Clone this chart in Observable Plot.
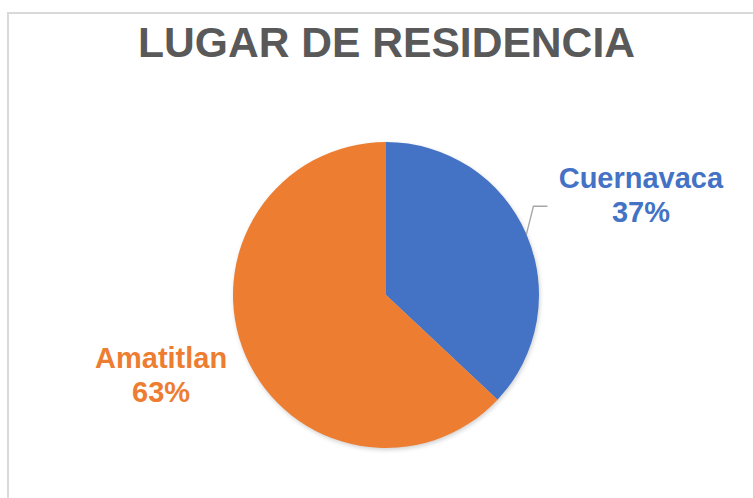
<!DOCTYPE html>
<html><head><meta charset="utf-8">
<script src="https://cdn.jsdelivr.net/npm/d3@7"></script>
<script src="https://cdn.jsdelivr.net/npm/@observablehq/plot@0.6"></script>
<style>html,body{margin:0;padding:0;background:#fff;overflow:hidden} svg{display:block}</style>
</head><body><div id="chart"></div>
<script>
const title = "LUGAR DE RESIDENCIA";
const categories = ["Cuernavaca", "Amatitlan"];
const values = [37, 63];
const colors = ["#4472C4", "#ED7D31"];

const FONT = "'Liberation Sans', Arial, Helvetica, sans-serif";
const R = 153, CX = 386, CY = 295;
const total = d3.sum(values);
const data = categories.map((c, i) => ({category: c, value: values[i]}));
const slices = d3.pie().sort(null).value(d => d.value)(data);

// label placement (pixel offsets from the slice's outer mid point)
const labelPlacement = {Cuernavaca: {dx: 114, dy: -13, leader: true}, Amatitlan: {dx: -85, dy: 46, leader: false}};

const labelData = slices.map(s => {
  const mid = (s.startAngle + s.endAngle) / 2;
  const p = labelPlacement[s.data.category];
  return {
    category: s.data.category,
    text: `${s.data.category}\n${Math.round(s.data.value / total * 100)}%`,
    x: Math.sin(mid) + p.dx / R,
    y: Math.cos(mid) - p.dy / R
  };
});

function pieMark(index, scales, values, dimensions) {
  const cx = scales.x(0), cy = scales.y(0);
  const r = scales.x(1) - scales.x(0);
  const g = d3.create("svg:g");
  // chart area border (top and left visible)
  g.append("path")
    .attr("d", `M8,${dimensions.height} L8,13 L${dimensions.width},13`)
    .attr("fill", "none").attr("stroke", "#d9d9d9").attr("stroke-width", 2);
  const arc = d3.arc().innerRadius(0).outerRadius(r);
  const pg = g.append("g").attr("transform", `translate(${cx},${cy})`)
    .style("filter", "drop-shadow(1.5px 2px 2px rgba(0,0,0,0.18))");
  pg.selectAll("path").data(slices).join("path")
    .attr("d", arc)
    .attr("fill", d => scales.color ? scales.color(d.data.category) : colors[categories.indexOf(d.data.category)]);
  // leader lines
  slices.forEach(s => {
    const p = labelPlacement[s.data.category];
    if (!p.leader) return;
    const mid = (s.startAngle + s.endAngle) / 2;
    const x0 = cx + r * Math.sin(mid), y0 = cy - r * Math.cos(mid);
    g.append("path")
      .attr("d", `M${x0},${y0} L${x0 + 7},${y0 - 28} L${x0 + 21},${y0 - 28}`)
      .attr("fill", "none").attr("stroke", "#a6a6a6").attr("stroke-width", 1.3);
  });
  return g.node();
}

const chart = Plot.plot({
  width: 753,
  height: 498,
  margin: 0,
  x: {type: "linear", domain: [-1, 1], range: [CX - R, CX + R], axis: null},
  y: {type: "linear", domain: [-1, 1], range: [CY + R, CY - R], axis: null},
  color: {domain: categories, range: colors},
  style: {fontFamily: FONT, background: "#fff"},
  marks: [
    pieMark,
    Plot.text(labelData, {
      x: "x", y: "y", text: "text", fill: "category",
      lineAnchor: "bottom", lineHeight: 1.18,
      fontSize: 29, fontWeight: "bold", fontFamily: FONT
    }),
    Plot.text([title], {
      x: () => 0, text: d => d, frameAnchor: "top", lineAnchor: "top", dy: 26,
      fontSize: 42.6, fontWeight: "bold", fill: "#595959", fontFamily: FONT
    })
  ]
});
document.getElementById("chart").appendChild(chart);
</script>
</body></html>
